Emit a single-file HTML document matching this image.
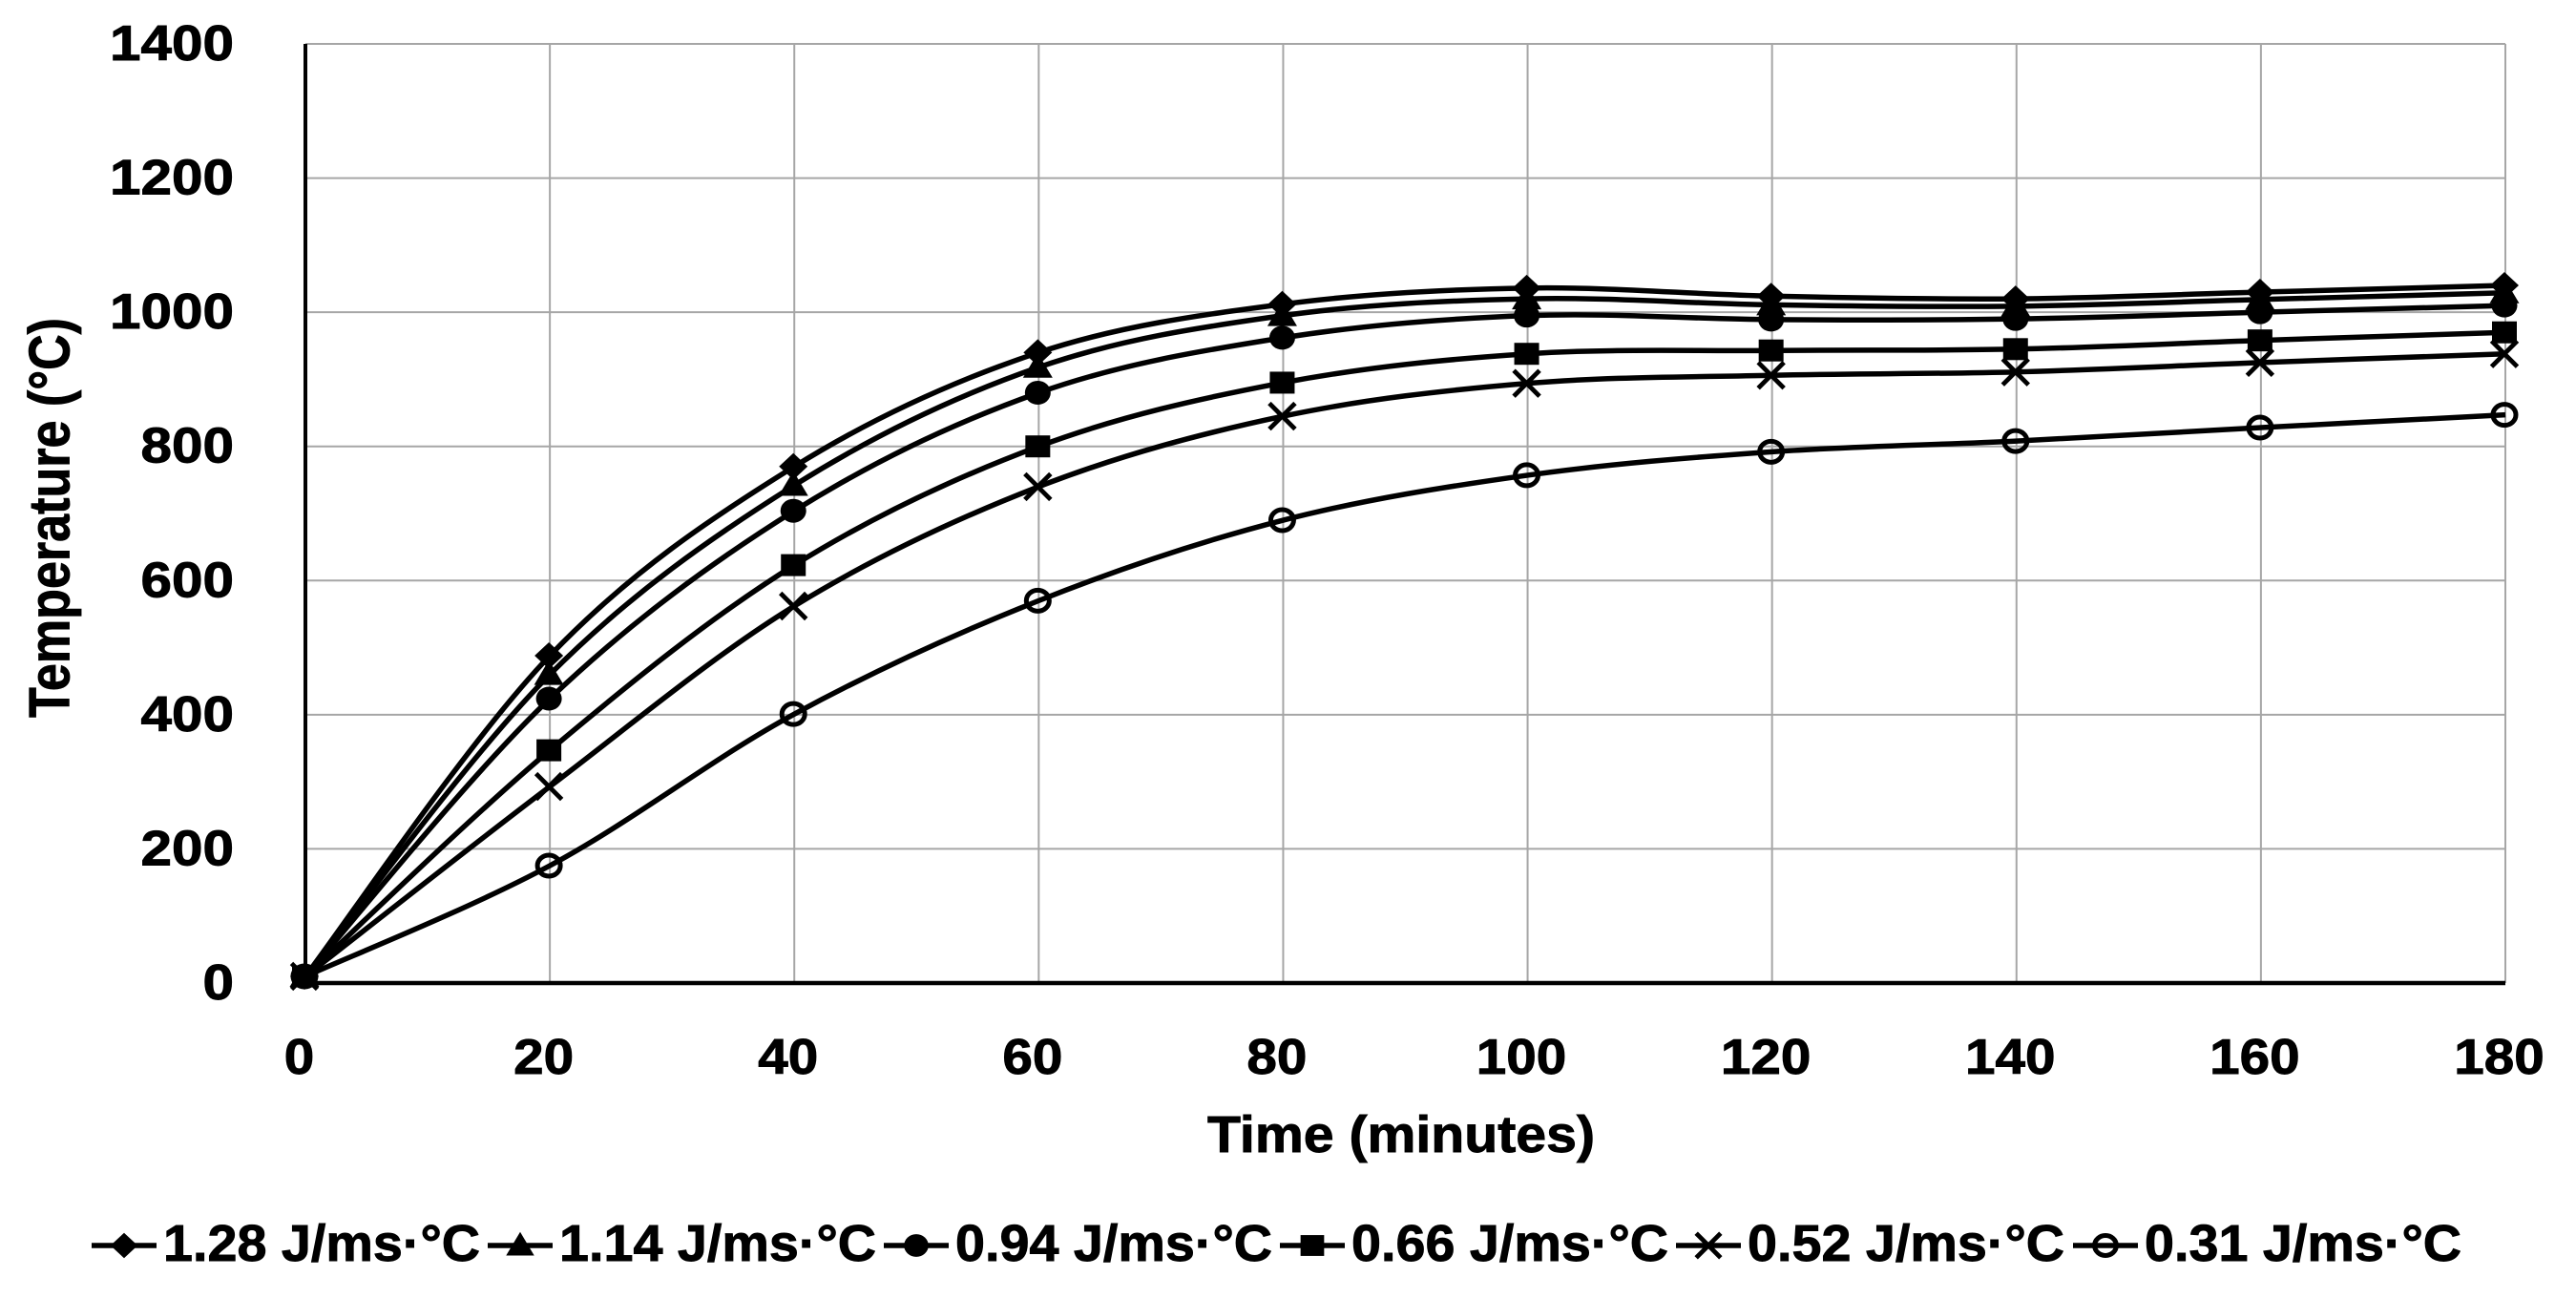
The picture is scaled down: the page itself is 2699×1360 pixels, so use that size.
<!DOCTYPE html>
<html lang="en">
<head>
<meta charset="utf-8">
<title>Temperature vs Time</title>
<style>
html,body{margin:0;padding:0;background:#fff;width:2699px;height:1360px;overflow:hidden}
svg{display:block}
text{font-family:"Liberation Sans",sans-serif;font-weight:700;fill:#000;stroke:#000;stroke-width:0.9px}
</style>
</head>
<body>
<svg id="chart" xmlns="http://www.w3.org/2000/svg" width="2699" height="1360" viewBox="0 0 2699 1360">
  <rect width="2699" height="1360" fill="#fff"/>
  <g id="grid"></g>
  <g id="axes"></g>
  <g id="series"></g>
  <g id="legend"></g>
  <text transform="translate(72.5,752) rotate(-90)" font-size="60" textLength="419" lengthAdjust="spacingAndGlyphs">Temperature (°C)</text>
  <text x="1265" y="1207" font-size="54" textLength="406" lengthAdjust="spacingAndGlyphs">Time (minutes)</text>
</svg>
<script>
const times = [0, 20, 40, 60, 80, 100, 120, 140, 160, 180];
const xTickLabels = [0, 20, 40, 60, 80, 100, 120, 140, 160, 180];
const yTickLabels = [0, 200, 400, 600, 800, 1000, 1200, 1400];
const seriesNames = ["1.28 J/ms·°C", "1.14 J/ms·°C", "0.94 J/ms·°C", "0.66 J/ms·°C", "0.52 J/ms·°C", "0.31 J/ms·°C"];
const k128 = [10, 488, 770, 940, 1012, 1036, 1024, 1020, 1030, 1040];
const k114 = [10, 460, 742, 918, 995, 1020, 1011, 1009, 1019, 1029];
const k094 = [10, 424, 704, 880, 962, 995, 989, 990, 1000, 1010];
const k066 = [10, 347, 623, 800, 895, 938, 943, 945, 958, 970];
const k052 = [10, 293, 562, 740, 845, 894, 906, 911, 925, 938];
const k031 = [10, 175, 401, 570, 690, 757, 792, 808, 828, 847];
const seriesValues = [k128, k114, k094, k066, k052, k031];
const markerKinds = ["diamond", "triangle", "circle", "square", "cross", "ring"];

const NS = "http://www.w3.org/2000/svg";
const xScale = t => 320 + (t / 180) * (2625 - 320);
const yScale = v => 1030 - (v / 1400) * (1030 - 46);

function el(parent, tag, attrs, txt) {
  const e = document.createElementNS(NS, tag);
  for (const k in attrs) e.setAttribute(k, attrs[k]);
  if (txt !== undefined) e.textContent = txt;
  parent.appendChild(e);
  return e;
}

function marker(parent, kind, x, y, s) {
  const g = el(parent, "g", {});
  
  
  if (kind === "diamond") {
    el(g, "polygon", {points: [x, y - 14 * s, x + 15 * s, y, x, y + 14 * s, x - 15 * s, y].join(" "), fill: "#000"});
  } else if (kind === "triangle") {
    el(g, "polygon", {points: [x, y - 15 * s, x + 15.5 * s, y + 11 * s, x - 15.5 * s, y + 11 * s].join(" "), fill: "#000"});
  } else if (kind === "circle") {
    el(g, "ellipse", {cx: x, cy: y, rx: 13.5 * s, ry: 12.5 * s, fill: "#000"});
  } else if (kind === "square") {
    el(g, "rect", {x: x - 13 * s, y: y - 11.5 * s, width: 26 * s, height: 23 * s, fill: "#000"});
  } else if (kind === "cross") {
    const a = 13.5 * s;
    el(g, "path", {d: `M${x - a} ${y - a}L${x + a} ${y + a}M${x - a} ${y + a}L${x + a} ${y - a}`, stroke: "#000", "stroke-width": 4.8, fill: "none"});
  } else {
    el(g, "ellipse", {cx: x, cy: y, rx: 12 * s, ry: 11 * s, fill: "none", stroke: "#000", "stroke-width": 5});
  }
}

function smoothPath(px) {
  let d = `M${px[0][0]} ${px[0][1]}`;
  for (let i = 0; i < px.length - 1; i++) {
    const p0 = px[Math.max(i - 1, 0)], p1 = px[i], p2 = px[i + 1], p3 = px[Math.min(i + 2, px.length - 1)];
    const c1x = p1[0] + (p2[0] - p0[0]) / 6, c1y = p1[1] + (p2[1] - p0[1]) / 6;
    const c2x = p2[0] - (p3[0] - p1[0]) / 6, c2y = p2[1] - (p3[1] - p1[1]) / 6;
    d += `C${c1x.toFixed(2)} ${c1y.toFixed(2)} ${c2x.toFixed(2)} ${c2y.toFixed(2)} ${p2[0].toFixed(2)} ${p2[1].toFixed(2)}`;
  }
  return d;
}

const grid = document.getElementById("grid");
const axes = document.getElementById("axes");
const seriesGroup = document.getElementById("series");
const legend = document.getElementById("legend");

yTickLabels.forEach(v => {
  if (v !== 0) {
    const l = el(grid, "line", {x1: xScale(0), x2: xScale(180), y1: yScale(v), y2: yScale(v), stroke: "#a6a6a6", "stroke-width": 2});
    
    
  }
  const s = String(v);
  const t = el(axes, "text", {x: 245, y: yScale(v) + 17, "font-size": 52, "text-anchor": "end", textLength: s.length * 32.5, lengthAdjust: "spacingAndGlyphs"}, s);
  
  
});

xTickLabels.forEach(v => {
  if (v !== 0) {
    const l = el(grid, "line", {x1: xScale(v), x2: xScale(v), y1: yScale(1400), y2: yScale(0), stroke: "#a6a6a6", "stroke-width": 2});
    
    
  }
  const s = String(v);
  const w = s.length * 31.5;
  const t = el(axes, "text", {x: xScale(v) - 6.5 - w / 2, y: 1125, "font-size": 52, textLength: w, lengthAdjust: "spacingAndGlyphs"}, s);
  
  
});

const yAxisLine = el(axes, "line", {x1: xScale(0), x2: xScale(0), y1: yScale(1400), y2: yScale(0) + 2, stroke: "#000", "stroke-width": 4});


const xAxisLine = el(axes, "line", {x1: xScale(0), x2: xScale(180), y1: yScale(0), y2: yScale(0), stroke: "#000", "stroke-width": 4.5});



seriesValues.forEach((vals, i) => {
  const g = el(seriesGroup, "g", {});
  
  
  const px = vals.map((v, j) => [xScale(times[j]), yScale(v)]);
  const p = el(g, "path", {d: smoothPath(px), fill: "none", stroke: "#000", "stroke-width": 5.5, "stroke-linejoin": "round"});
  
  
  px.forEach(q => marker(g, markerKinds[i], q[0] - 1, q[1], 1));
});

const legendStart = 171;
const legendStep = 415;
seriesNames.forEach((name, i) => {
  const tx = legendStart + i * legendStep + (i > 4 ? 1 : 0);
  const g = el(legend, "g", {});
  
  
  const l = el(g, "line", {x1: tx - 75, x2: tx - 7, y1: 1305, y2: 1305, stroke: "#000", "stroke-width": 5.5});
  
  
  marker(g, markerKinds[i], tx - 41, 1305, 0.95);
  const t = el(g, "text", {x: tx, y: 1321, "font-size": 54, textLength: 332, lengthAdjust: "spacingAndGlyphs"}, name);
  
  
});
</script>
</body>
</html>
